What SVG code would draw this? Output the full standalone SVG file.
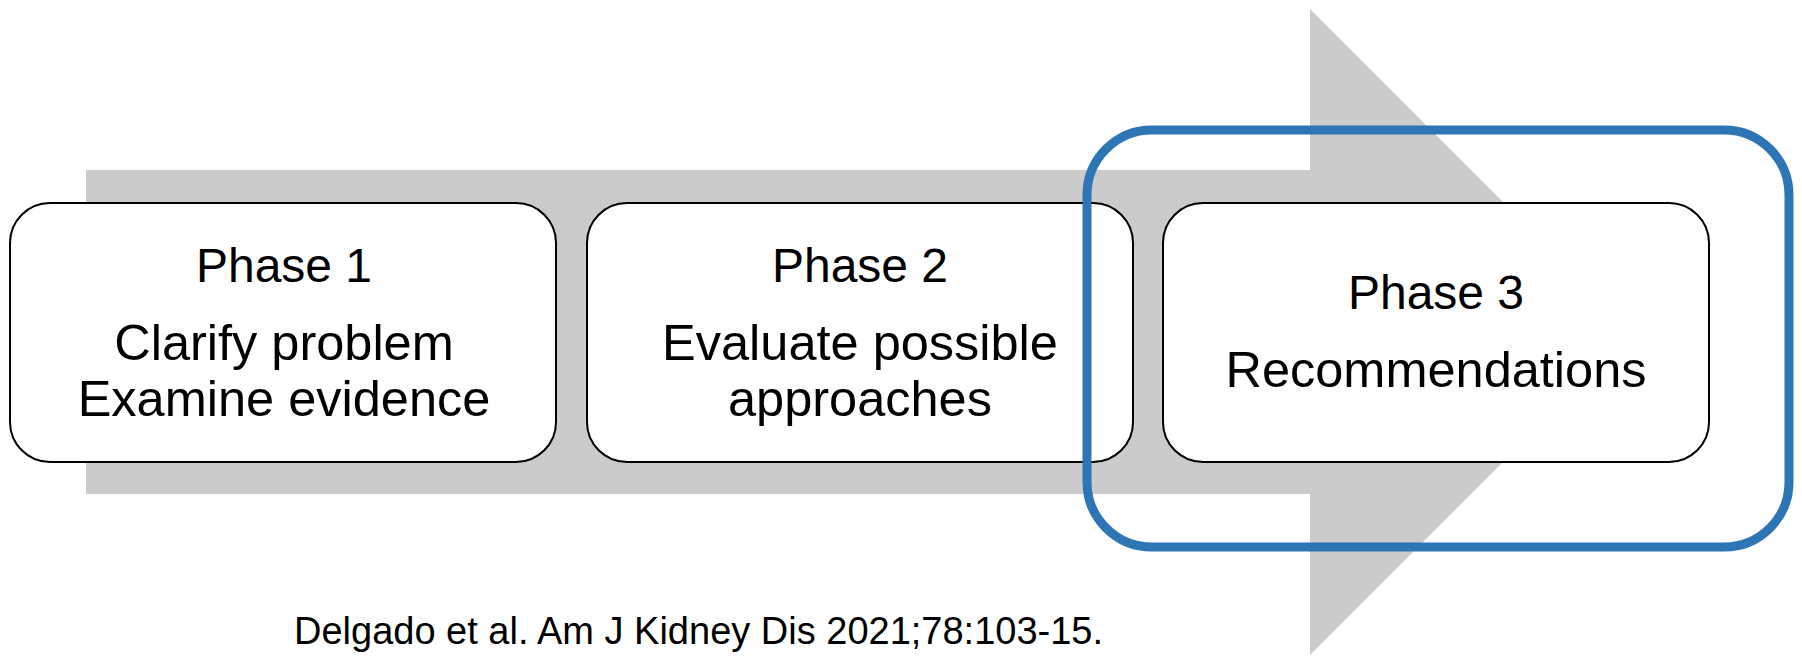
<svg xmlns="http://www.w3.org/2000/svg" width="1802" height="656" viewBox="0 0 1802 656">
<style>
.box{fill:#fff;stroke:#000;stroke-width:2}
.t{font-family:"Liberation Sans",Arial,sans-serif;font-size:48px;fill:#000;text-anchor:middle}
.b{font-size:50.5px}
.cite{font-family:"Liberation Sans",Arial,sans-serif;font-size:38px;fill:#000}
</style>
<rect width="1802" height="656" fill="#fff"/>
<g id="arrow">
<polygon points="86,170 1310,170 1310,9 1633,332 1310,655 1310,494 86,494" fill="#cbcbcb"/>
</g>
<g id="phase1">
<rect class="box" x="10" y="203" width="546" height="259" rx="40"/>
<text class="t" x="284" y="282">Phase 1</text>
<text class="t b" x="284" y="360">Clarify problem</text>
<text class="t b" x="284" y="416">Examine evidence</text>
</g>
<g id="phase2">
<rect class="box" x="587" y="203" width="546" height="259" rx="40"/>
<text class="t" x="860" y="282">Phase 2</text>
<text class="t b" x="860" y="360">Evaluate possible</text>
<text class="t b" x="860" y="416">approaches</text>
</g>
<g id="phase3">
<rect class="box" x="1163" y="203" width="546" height="259" rx="40"/>
<text class="t" x="1436" y="309">Phase 3</text>
<text class="t b" x="1436" y="387">Recommendations</text>
</g>
<g id="highlight">
<rect x="1087" y="130" width="702" height="417" rx="65" fill="none" stroke="#2e75b6" stroke-width="9"/>
</g>
<g id="citation">
<text class="cite" x="294" y="644">Delgado et al. Am J Kidney Dis 2021;78:103-15.</text>
</g>
</svg>
